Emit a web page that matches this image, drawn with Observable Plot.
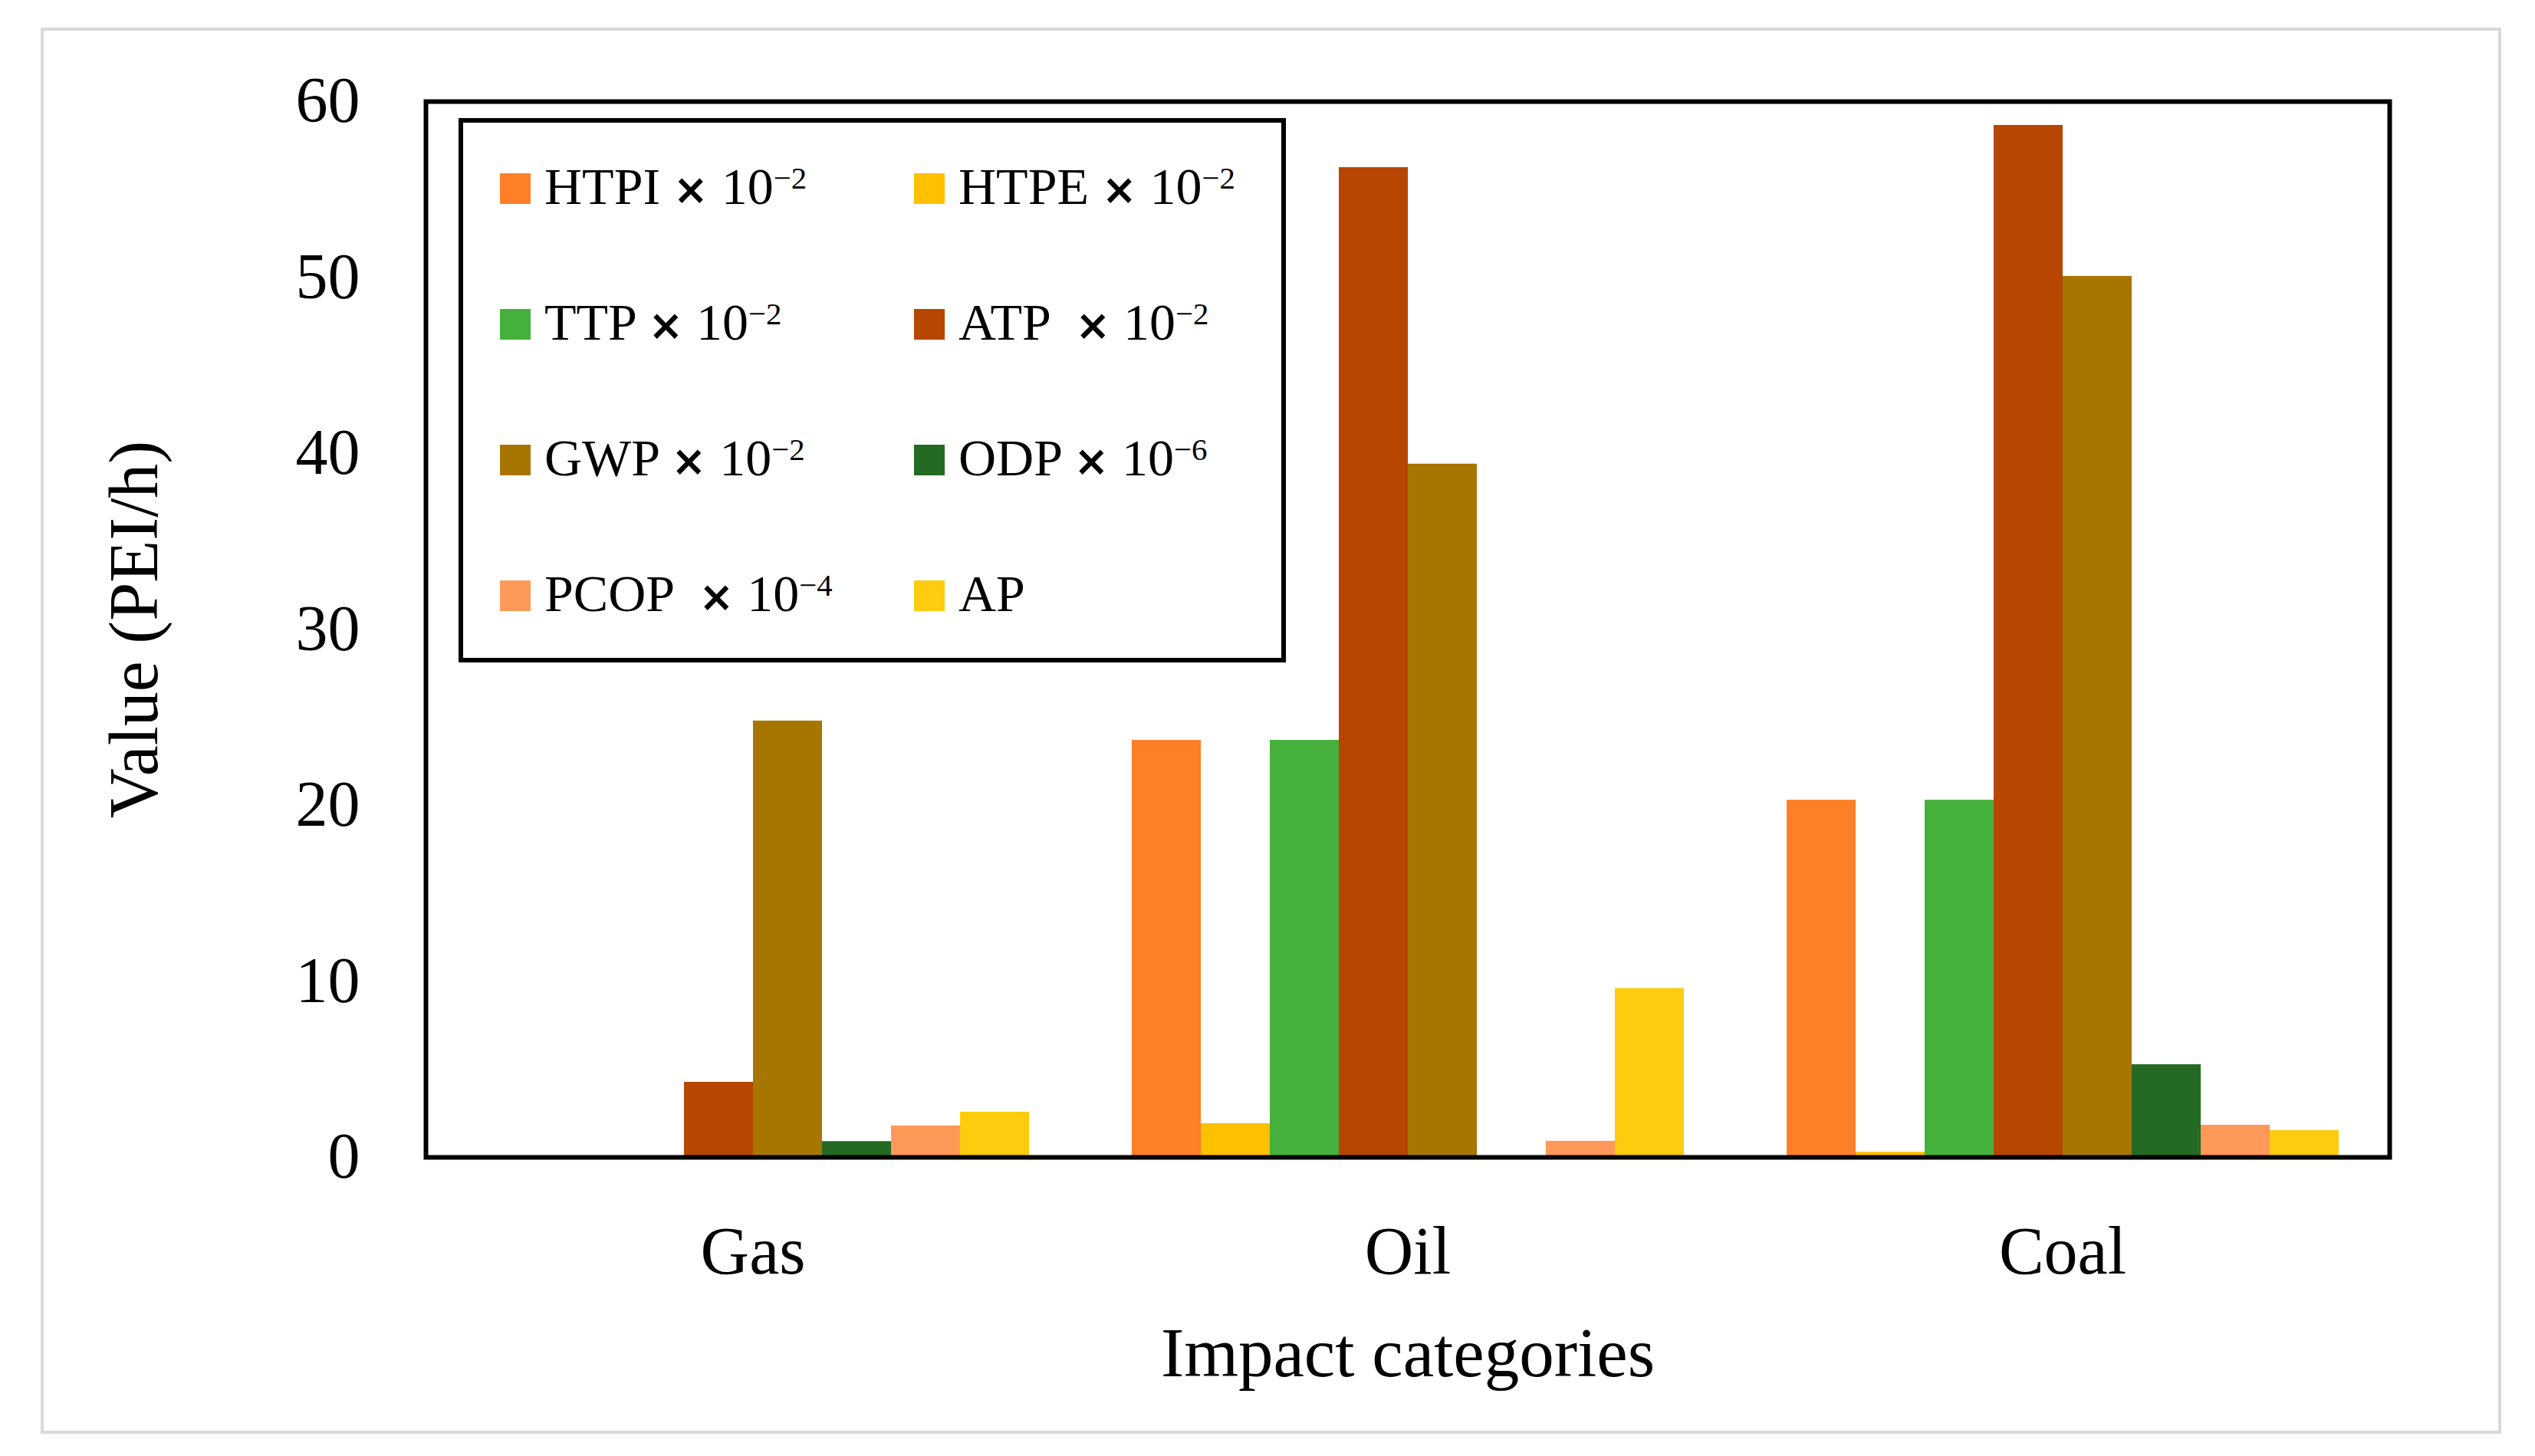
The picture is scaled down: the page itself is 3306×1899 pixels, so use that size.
<!DOCTYPE html>
<html>
<head>
<meta charset="utf-8">
<script src="https://cdn.jsdelivr.net/npm/d3@7"></script>
<script src="https://cdn.jsdelivr.net/npm/@observablehq/plot@0.6"></script>
<style>
  html, body { margin: 0; padding: 0; background: #fff; }
  #page { position: relative; width: 3306px; height: 1899px; overflow: hidden; background: #fff; }
  #outer { position: absolute; left: 53px; top: 36px; width: 3209px; height: 1834px; box-sizing: border-box; border: 4px solid #d9d9d9; }
  #chart { position: absolute; left: 0; top: 0; }
  #chart svg [aria-label="y-axis label"] { font-size: 90px; }
  #chart svg [aria-label="fx-axis label"] { font-size: 91px; }
  #legend { position: absolute; left: 598px; top: 154px; width: 1079px; height: 710px; box-sizing: border-box;
            border: 6px solid #000; background: #fff; font-family: "Liberation Serif", serif; font-size: 68px; color: #000; }
  .item { position: absolute; white-space: pre; line-height: 1; }
  .sw { display: inline-block; width: 40px; height: 40px; margin-right: 18px; vertical-align: baseline; }
  .item sup { font-size: 0.6em; vertical-align: 0.5em; line-height: 0; }
  .item .times { font-family: "DejaVu Sans", sans-serif; font-weight: bold; font-size: 0.8em; }
</style>
</head>
<body>
<div id="page">
  <div id="outer"></div>
  <div id="chart"></div>
  <div id="legend"></div>
</div>
<script>
// ---- data ----
const categories = ["Gas", "Oil", "Coal"];
const series = ["HTPI", "HTPE", "TTP", "ATP", "GWP", "ODP", "PCOP", "AP"];
const gasValues  = [0,    0,    0,    4.27,  24.8,  0.9,  1.79, 2.57];
const oilValues  = [23.7, 1.92, 23.7, 56.25, 39.4,  0,    0.92, 9.6];
const coalValues = [20.3, 0.3,  20.3, 58.65, 50.07, 5.27, 1.83, 1.53];
const colors = ["#FF7F27", "#FFC000", "#45B03B", "#B64600", "#A77600", "#246A22", "#FF9959", "#FECC0E"];
const legendNames = ["HTPI × 10", "HTPE × 10", "TTP × 10", "ATP  × 10", "GWP × 10", "ODP × 10", "PCOP  × 10", "AP"];
const legendExponents = ["−2", "−2", "−2", "−2", "−2", "−6", "−4", ""];
const yTicks = [0, 10, 20, 30, 40, 50, 60];
const yLabel = "Value (PEI/h)";
const xLabel = "Impact categories";

const valuesByCategory = [gasValues, oilValues, coalValues];
const table = categories.flatMap((c, i) =>
  series.map((s, j) => ({category: c, series: s, value: valuesByCategory[i][j]})));

const outerGap = 66; // gap between plot frame and first/last group
const chart = Plot.plot({
  width: 3306,
  height: 1899,
  marginLeft: 554,
  marginRight: 190,
  marginTop: 132,
  marginBottom: 390,
  style: {fontFamily: "'Liberation Serif', serif", fontSize: "84px", background: "transparent", color: "#000", overflow: "visible"},
  fx: {domain: categories, paddingInner: 0.156, paddingOuter: 0.077},
  x: {domain: series, padding: 0, axis: null},
  y: {domain: [0, 60]},
  color: {domain: series, range: colors},
  marks: [
    Plot.barY(table, {fx: "category", x: "series", y: "value", fill: "series", inset: 0}),
    Plot.axisY(yTicks, {tickSize: 0, tickPadding: 86 + outerGap, fontSize: 84, label: yLabel, labelAnchor: "center", labelOffset: 480, labelArrow: false}),
    Plot.axisFx({anchor: "bottom", tickSize: 0, tickPadding: 89, fontSize: 88, label: xLabel, labelAnchor: "center", labelOffset: 285, labelArrow: false}),
    Plot.frame({stroke: "#000", strokeWidth: 6, facet: "super", insetLeft: -outerGap, insetRight: -outerGap})
  ]
});
document.getElementById("chart").appendChild(chart);

// ---- legend ----
const legend = document.getElementById("legend");
const innerLeft = 604, innerTop = 160;
series.forEach((s, i) => {
  const col = i % 2, row = Math.floor(i / 2);
  const div = document.createElement("div");
  div.className = "item";
  div.style.left = (652 + col * 540 - innerLeft) + "px";
  div.style.top = (264 + row * 177 - innerTop - 55) + "px";
  const sw = document.createElement("span");
  sw.className = "sw";
  sw.style.background = colors[i];
  div.appendChild(sw);
  const parts = legendNames[i].split("×");
  div.appendChild(document.createTextNode(parts[0]));
  if (parts.length > 1) {
    const t = document.createElement("span");
    t.className = "times";
    t.textContent = "×";
    div.appendChild(t);
    div.appendChild(document.createTextNode(parts[1]));
  }
  if (legendExponents[i]) {
    const sup = document.createElement("sup");
    sup.textContent = legendExponents[i];
    div.appendChild(sup);
  }
  legend.appendChild(div);
});
</script>
</body>
</html>
